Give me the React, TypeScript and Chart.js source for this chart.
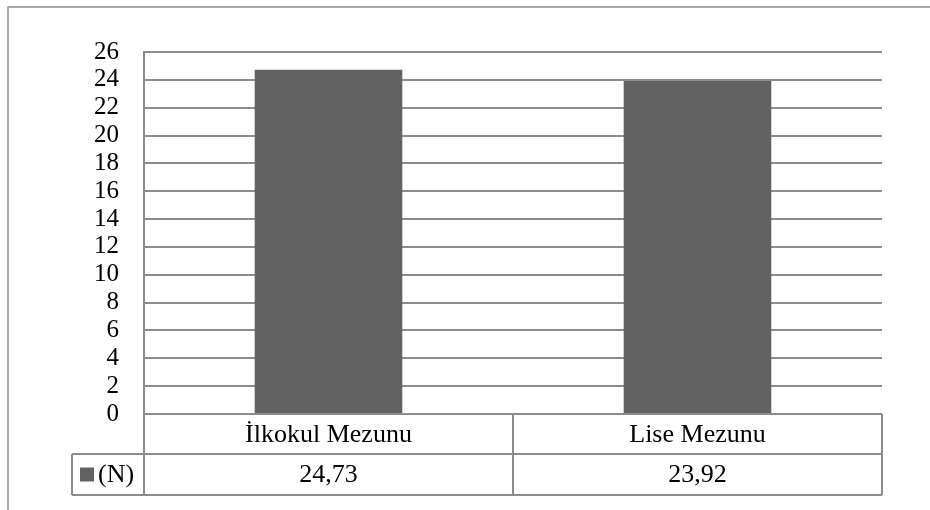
import React, { useEffect, useRef } from "react";
import { Chart, registerables } from "chart.js";

Chart.register(...registerables);

const categories: string[] = ["İlkokul Mezunu", "Lise Mezunu"];
const seriesLabel = "(N)";
const seriesValues: number[] = [24.73, 23.92];
const yTicks = { min: 0, max: 26, step: 2 };

const BAR = "#626262";
const LINE = "#8c8c8c";
const FONT = "'Liberation Serif', 'Times New Roman', serif";

const fmt = (v: number) => v.toFixed(2).replace(".", ",");

// Outer frame plus the data table under the plot area
const tablePlugin = {
  id: "dataTable",
  beforeDraw(chart: any) {
    const ctx = chart.ctx as CanvasRenderingContext2D;
    ctx.save();
    ctx.strokeStyle = LINE;
    ctx.lineWidth = 1.5;
    ctx.beginPath();
    ctx.moveTo(8, chart.height);
    ctx.lineTo(8, 7);
    ctx.lineTo(chart.width, 7);
    ctx.stroke();
    ctx.restore();
  },
  afterDraw(chart: any) {
    const ctx = chart.ctx as CanvasRenderingContext2D;
    const area = chart.chartArea;
    const xs = chart.scales.x;
    const left = area.left;
    const right = area.right;
    const top = area.bottom;
    const row1 = top + 40;
    const row2 = row1 + 41;
    const legendLeft = 72;
    const centers = categories.map((_, i) => xs.getPixelForValue(i));
    const dividers: number[] = [];
    for (let i = 0; i < centers.length - 1; i++) dividers.push((centers[i] + centers[i + 1]) / 2);

    ctx.save();
    ctx.strokeStyle = LINE;
    ctx.lineWidth = 2;
    ctx.beginPath();
    [left, ...dividers, right].forEach((x) => {
      ctx.moveTo(x, top);
      ctx.lineTo(x, row2);
    });
    ctx.moveTo(legendLeft, row1);
    ctx.lineTo(right, row1);
    ctx.moveTo(legendLeft, row2);
    ctx.lineTo(right, row2);
    ctx.moveTo(legendLeft, row1);
    ctx.lineTo(legendLeft, row2);
    ctx.stroke();

    ctx.fillStyle = "#000";
    ctx.textAlign = "center";
    ctx.textBaseline = "middle";
    ctx.font = `26px ${FONT}`;
    categories.forEach((c, i) => {
      ctx.fillText(c, centers[i], (top + row1) / 2 + 1);
      ctx.fillText(fmt(seriesValues[i]), centers[i], (row1 + row2) / 2 + 1);
    });

    // legend key
    const midY = (row1 + row2) / 2;
    ctx.fillStyle = BAR;
    ctx.fillRect(80, midY - 7, 14, 14);
    ctx.fillStyle = "#000";
    ctx.textAlign = "left";
    ctx.fillText(seriesLabel, 98, midY + 1);
    ctx.restore();
  },
};

export default function App() {
  const ref = useRef<HTMLCanvasElement | null>(null);

  useEffect(() => {
    if (!ref.current) return;
    const chart = new Chart(ref.current, {
      type: "bar",
      data: {
        labels: categories,
        datasets: [
          {
            label: seriesLabel,
            data: seriesValues,
            backgroundColor: BAR,
            categoryPercentage: 1,
            barPercentage: 0.4,
          },
        ],
      },
      options: {
        responsive: false,
        animation: false,
        layout: { padding: { top: 52, right: 48, bottom: 96, left: 0 } },
        plugins: { legend: { display: false }, tooltip: { enabled: false } },
        scales: {
          x: { display: false },
          y: {
            min: yTicks.min,
            max: yTicks.max,
            ticks: {
              stepSize: yTicks.step,
              autoSkip: false,
              color: "#000",
              font: { family: FONT, size: 25 },
              padding: 25,
            },
            grid: { color: LINE, lineWidth: 2, drawTicks: false },
            border: { color: LINE, width: 2 },
            afterFit: (scale: any) => {
              scale.width = 144;
            },
          },
        },
      },
      plugins: [tablePlugin],
    });
    return () => chart.destroy();
  }, []);

  return (
    <div style={{ position: "absolute", left: 0, top: 0, width: 930, height: 510, background: "#fff" }}>
      <canvas ref={ref} width={930} height={510} style={{ display: "block" }} />
    </div>
  );
}
